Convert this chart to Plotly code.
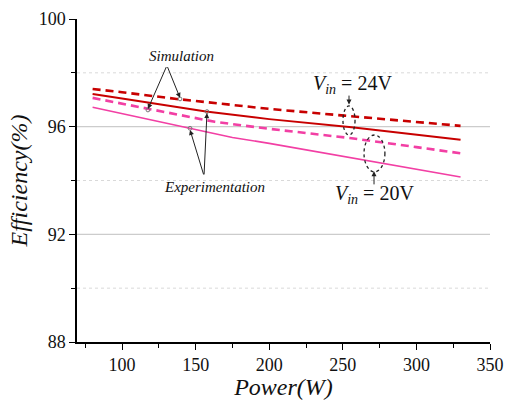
import plotly.graph_objects as go

# ---- data ----
power_sim24 = [80, 100, 137, 163, 200, 251, 300, 330]
eff_sim24 = [97.40, 97.28, 97.03, 96.87, 96.66, 96.41, 96.18, 96.03]

power_exp24 = [80, 100, 157, 200, 256, 300, 330]
eff_exp24 = [97.21, 97.05, 96.56, 96.28, 95.98, 95.70, 95.51]

power_sim20 = [80, 100, 118, 163, 200, 256, 300, 330]
eff_sim20 = [97.07, 96.86, 96.66, 96.18, 95.92, 95.57, 95.24, 95.01]

power_exp20 = [80, 100, 145, 175, 200, 256, 300, 330]
eff_exp20 = [96.72, 96.48, 95.96, 95.60, 95.38, 94.83, 94.42, 94.13]

x_major = [100, 150, 200, 250, 300, 350]
x_minor = [75, 125, 175, 225, 275, 325]
y_major = [88, 92, 96, 100]
y_minor = [90, 94, 98]
grid_solid = [92, 96]
grid_dot = [90, 94, 98]

RED = "#c80000"
PINK = "#f23fa4"
FONT = "Liberation Serif"
DASH = "8px,5px"
INK = "#111111"

fig = go.Figure()
fig.add_trace(go.Scatter(x=power_sim24, y=eff_sim24, mode="lines",
                         line=dict(color=RED, width=2.6, dash=DASH), name="Sim 24V"))
fig.add_trace(go.Scatter(x=power_exp24, y=eff_exp24, mode="lines",
                         line=dict(color=RED, width=2), name="Exp 24V"))
fig.add_trace(go.Scatter(x=power_sim20, y=eff_sim20, mode="lines",
                         line=dict(color=PINK, width=2.6, dash=DASH), name="Sim 20V"))
fig.add_trace(go.Scatter(x=power_exp20, y=eff_exp20, mode="lines",
                         line=dict(color=PINK, width=1.6), name="Exp 20V"))

shapes = []
for g in grid_solid:
    shapes.append(dict(type="line", xref="paper", x0=0, x1=1, yref="y", y0=g, y1=g,
                       line=dict(color="#cccccc", width=1.2), layer="below"))
for g in grid_dot:
    shapes.append(dict(type="line", xref="paper", x0=0, x1=1, yref="y", y0=g, y1=g,
                       line=dict(color="#d9d9d9", width=1, dash="dot"), layer="below"))
# dotted ellipses
shapes.append(dict(type="circle", xref="x", yref="y", x0=250.1, x1=258.3, y0=95.69, y1=96.77,
                   line=dict(color="#222222", width=1.3, dash="dot")))
shapes.append(dict(type="circle", xref="x", yref="y", x0=264.4, x1=278.6, y0=94.32, y1=95.69,
                   line=dict(color="#222222", width=1.3, dash="dot")))
# small circles at arrow tips
for cx, cy in [(117.6, 96.62), (139.4, 97.03), (146.2, 95.94), (157.7, 96.56)]:
    shapes.append(dict(type="circle", xref="x", yref="y",
                       x0=cx - 1.3, x1=cx + 1.3, y0=cy - 0.07, y1=cy + 0.07,
                       line=dict(color="#777777", width=1)))

annotations = []
def arrow(tx, ty, hx, hy):
    annotations.append(dict(x=hx, y=hy, ax=tx, ay=ty, xref="x", yref="y", axref="x", ayref="y",
                            text="", showarrow=True, arrowhead=2, arrowsize=1, arrowwidth=1,
                            arrowcolor="#222222"))

arrow(130.5, 98.27, 117.6, 96.66)
arrow(130.5, 98.27, 139.4, 97.07)
arrow(155.7, 94.17, 146.2, 95.88)
arrow(155.7, 94.17, 157.7, 96.50)
arrow(254.2, 97.21, 254.2, 96.82)
arrow(271.2, 93.80, 271.2, 94.34)

annotations.append(dict(x=140.7, y=98.62, xref="x", yref="y", text="<i>Simulation</i>",
                        showarrow=False, font=dict(family=FONT, size=15, color=INK)))
annotations.append(dict(x=163.1, y=93.77, xref="x", yref="y", text="<i>Experimentation</i>",
                        showarrow=False, font=dict(family=FONT, size=15, color=INK)))
annotations.append(dict(x=256.9, y=97.58, xref="x", yref="y",
                        text="<i>V<sub>in</sub></i> = 24V",
                        showarrow=False, font=dict(family=FONT, size=20, color=INK)))
annotations.append(dict(x=271.8, y=93.47, xref="x", yref="y",
                        text="<i>V<sub>in</sub></i> = 20V",
                        showarrow=False, font=dict(family=FONT, size=20, color=INK)))

fig.update_layout(
    width=512, height=400,
    margin=dict(l=77, r=22, t=19, b=58),
    plot_bgcolor="white", paper_bgcolor="white",
    showlegend=False,
    shapes=shapes, annotations=annotations,
    font=dict(family=FONT, color=INK),
    xaxis=dict(range=[69.4, 350], tickvals=x_major, ticks="outside", ticklen=6, tickwidth=1.3,
               tickcolor="black", showline=True, linecolor="black", linewidth=1.5,
               showgrid=False, zeroline=False, automargin=False,
               minor=dict(tickvals=x_minor, ticks="outside", ticklen=4,
                          tickcolor="black", showgrid=False),
               tickfont=dict(family=FONT, size=18, color=INK),
               title=dict(text="<i>Power(W)</i>", font=dict(family=FONT, size=24, color=INK),
                          standoff=2)),
    yaxis=dict(range=[88, 100], tickvals=y_major, ticks="outside", ticklen=6, tickwidth=1.3,
               tickcolor="black", showline=True, linecolor="black", linewidth=1.5,
               showgrid=False, zeroline=False, automargin=False,
               minor=dict(tickvals=y_minor, ticks="outside", ticklen=4,
                          tickcolor="black", showgrid=False),
               tickfont=dict(family=FONT, size=18, color=INK),
               title=dict(text="<i>Efficiency(%)</i>", font=dict(family=FONT, size=24, color=INK),
                          standoff=4)),
)

fig.write_html("out.html")
